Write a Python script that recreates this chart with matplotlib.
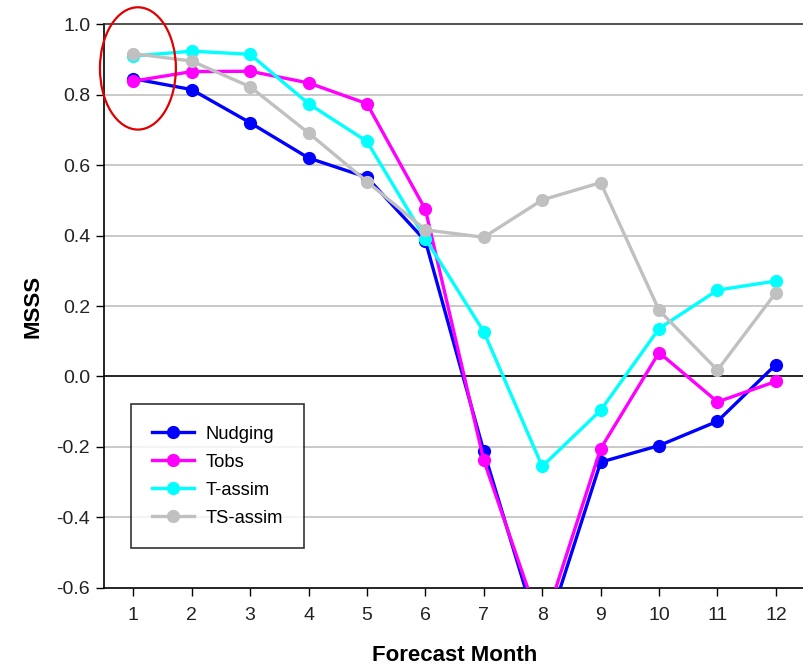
import matplotlib.pyplot as plt
from matplotlib.patches import Ellipse

# values
months = [1, 2, 3, 4, 5, 6, 7, 8, 9, 10, 11, 12]
nudging = [0.845, 0.814, 0.720, 0.620, 0.565, 0.385, -0.212, -0.76, -0.243, -0.196, -0.127, 0.034]
tobs = [0.838, 0.865, 0.866, 0.833, 0.774, 0.474, -0.238, -0.72, -0.205, 0.068, -0.072, -0.014]
t_assim = [0.909, 0.923, 0.914, 0.774, 0.667, 0.391, 0.127, -0.255, -0.096, 0.136, 0.245, 0.271]
ts_assim = [0.916, 0.895, 0.822, 0.691, 0.553, 0.416, 0.395, 0.501, 0.550, 0.188, 0.018, 0.238]

series = [("Nudging", nudging, "#0000FF"),
          ("Tobs", tobs, "#FF00FF"),
          ("T-assim", t_assim, "#00FFFF"),
          ("TS-assim", ts_assim, "#C0C0C0")]

plt.rcParams['font.family'] = ['Liberation Sans', 'DejaVu Sans']

fig = plt.figure(figsize=(8.04, 6.69), dpi=100)
ax = fig.add_axes([0.1294, 0.1211, 0.872, 0.843])

# grid and zero line
for y in [-0.4, -0.2, 0.2, 0.4, 0.6, 0.8]:
    ax.axhline(y, color="#C0C0C0", lw=1.2, zorder=1)
ax.axhline(0, color="black", lw=1.2, zorder=1)

for name, vals, col in series:
    ax.plot(months, vals, color=col, lw=2.4, marker="o", markersize=8.5,
            label=name, zorder=3)

ax.set_xlim(0.5, 12.5)
ax.set_ylim(-0.6, 1.0)
ax.set_xticks(months)
ax.set_yticks([-0.6, -0.4, -0.2, 0.0, 0.2, 0.4, 0.6, 0.8, 1.0])
ax.set_yticklabels(["%.1f" % v for v in ax.get_yticks()])

ax.spines["right"].set_visible(False)
ax.spines["top"].set_color("#333333")
for s in ["left", "bottom", "top"]:
    ax.spines[s].set_linewidth(1.2)
ax.tick_params(axis="both", direction="out", length=6, width=1.0,
               labelsize=14, colors="black", labelcolor="#222222", pad=4)
ax.tick_params(axis="x", pad=8)

ax.set_xlabel("Forecast Month", fontsize=16, fontweight="bold", labelpad=15)
ax.set_ylabel("MSSS", fontsize=16, fontweight="bold", labelpad=9)

leg = ax.legend(loc="lower left", bbox_to_anchor=(0.0385, 0.0715),
                fontsize=13.2, frameon=True, fancybox=False, edgecolor="black",
                handlelength=2.3, handletextpad=0.6, labelspacing=0.6,
                borderpad=1.15, borderaxespad=0)
leg.get_frame().set_linewidth(1.2)

# red circle highlighting month 1
ell = Ellipse((1.08, 0.874), 1.30, 0.347, fill=False, edgecolor="#E00000",
              lw=1.6, clip_on=False, zorder=5)
ax.add_patch(ell)

fig.savefig("out.png", dpi=100)
